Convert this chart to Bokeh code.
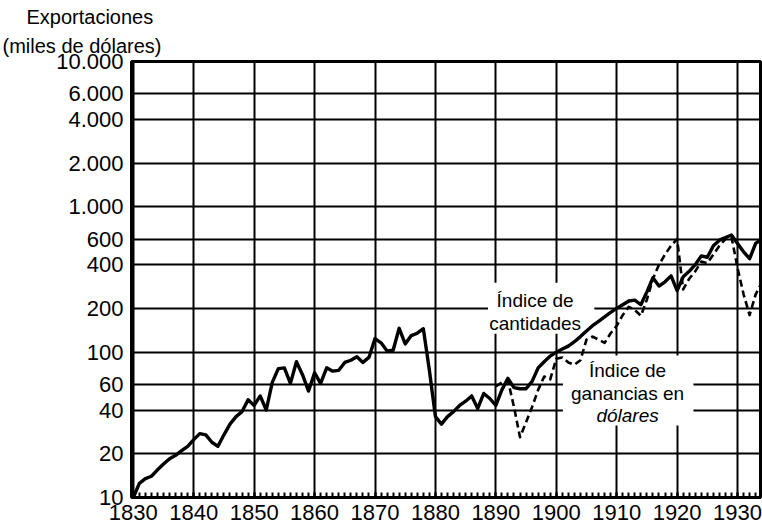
from bokeh.plotting import figure
from bokeh.models import Range1d, FixedTicker, Label, BoxAnnotation, Title
from bokeh.embed import file_html
from bokeh.resources import INLINE

# ---------------- data ----------------
qty_years = list(range(1830, 1935))
qty_values = [
    10, 12.5, 13.5, 14, 15.5, 17, 18.5, 19.5, 21, 22.5,          # 1830-1839
    25, 27.5, 27, 24, 22.5, 27, 32, 36, 39, 47,                  # 1840-1849
    43, 50, 40, 62, 77, 78, 61, 86, 70, 54,                      # 1850-1859
    72, 61, 78, 74, 75, 85, 88, 93, 85, 92,                      # 1860-1869
    124, 116, 102, 103, 146, 114, 130, 135, 145, 75,             # 1870-1879
    36, 32, 36, 39, 43, 46, 50, 41, 52, 48,                      # 1880-1889
    43, 55, 66, 57, 56, 56, 63, 78, 86, 94,                      # 1890-1899
    100, 105, 110, 118, 128, 140, 152, 163, 175, 188,            # 1900-1909
    200, 212, 225, 228, 212, 260, 325, 285, 305, 335,            # 1910-1919
    265, 330, 360, 400, 460, 450, 540, 590, 615, 640,            # 1920-1929
    560, 490, 440, 560, 600,                                     # 1930-1934
]

usd_years = list(range(1890, 1935))
usd_values = [
    58, 62, 64, 42, 26, 33, 42, 55, 68, 65,                      # 1890-1899
    90, 92, 85, 82, 88, 122, 128, 122, 116, 135,                 # 1900-1909
    152, 180, 205, 195, 178, 230, 320, 400, 470, 540,            # 1910-1919
    600, 270, 320, 360, 420, 410, 470, 540, 600, 620,            # 1920-1929
    380, 250, 180, 250, 300,                                     # 1930-1934
]

x_ticks = [1830, 1840, 1850, 1860, 1870, 1880, 1890, 1900, 1910, 1920, 1930]
x_minor = list(range(1830, 1935))
y_ticks = [10, 20, 40, 60, 100, 200, 400, 600, 1000, 2000, 4000, 6000, 10000]
y_labels = ["10", "20", "40", "60", "100", "200", "400", "600",
            "1.000", "2.000", "4.000", "6.000", "10.000"]

title_1 = "Exportaciones"
title_2 = "(miles de dólares)"
label_qty = ["Índice de", "cantidades"]
label_usd = ["Índice de", "ganancias en", "dólares"]

# ---------------- layout ----------------
FONT = "Liberation Sans"
TICK_FS = "22px"
TEXT_FS = "19px"
TITLE_FS = "20px"
W, H = 762, 529
X0, X1 = 1829.7, 1933.8
FL, FR, FT, FB = 131, 760, 61, 497   # frame edges in page pixels

p = figure(width=W, height=H, title=None,
           x_range=Range1d(X0, X1), y_range=Range1d(10, 10000),
           y_axis_type="log", output_backend="svg", toolbar_location=None,
           min_border_left=FL, min_border_right=W - FR,
           min_border_top=FT, min_border_bottom=H - FB)

p.outline_line_color = "black"
p.outline_line_width = 3
p.background_fill_color = "white"
p.border_fill_color = "white"

xt = FixedTicker(ticks=x_ticks, minor_ticks=x_minor)
yt = FixedTicker(ticks=y_ticks, minor_ticks=[])

xa = p.xaxis[0]
xa.ticker = xt
xa.axis_line_width = 2.5
xa.major_tick_in = 5
xa.major_tick_out = 0
xa.minor_tick_in = 5
xa.minor_tick_out = 0
xa.major_tick_line_width = 2
xa.minor_tick_line_width = 2
xa.major_label_standoff = 7
xa.major_label_text_font = FONT
xa.major_label_text_font_size = TICK_FS
xa.major_label_text_color = "black"

ya = p.yaxis[0]
ya.ticker = yt
ya.axis_line_color = None
ya.major_tick_in = 0
ya.major_tick_out = 0
ya.minor_tick_in = 0
ya.minor_tick_out = 0
ya.major_label_standoff = 8
ya.major_label_text_font = FONT
ya.major_label_text_font_size = TICK_FS
ya.major_label_text_color = "black"
ya.major_label_overrides = {v: s for v, s in zip(y_ticks, y_labels)}

p.xgrid.ticker = xt
p.ygrid.ticker = yt
for g in (p.xgrid[0], p.ygrid[0]):
    g.grid_line_color = "black"
    g.grid_line_width = 2
    g.grid_line_alpha = 1

# white patches behind the in-plot labels (interrupt grid lines)
p.add_layout(BoxAnnotation(left=1888.7, right=1906.3, bottom=134, top=300,
                           fill_color="white", fill_alpha=1, line_color=None,
                           level="underlay"))
p.add_layout(BoxAnnotation(left=1901.1, right=1922.7, bottom=31.3, top=95,
                           fill_color="white", fill_alpha=1, line_color=None,
                           level="underlay"))

# series
p.line(qty_years, qty_values, line_color="black", line_width=3.4,
       line_join="round", line_cap="round")
p.line(usd_years, usd_values, line_color="black", line_width=2.6,
       line_dash="7 4", line_join="round")

# axis title, as two stacked titles above the frame (first = nearest frame)
p.add_layout(Title(text=title_2, align="left", offset=2 - FL, standoff=10,
                   text_font=FONT, text_font_size=TITLE_FS,
                   text_font_style="normal", text_color="black"), "above")
p.add_layout(Title(text=title_1, align="left", offset=26 - FL, standoff=0,
                   text_font=FONT, text_font_size=TITLE_FS,
                   text_font_style="normal", text_color="black"), "above")

# in-plot labels
for txt, yv in zip(label_qty, [227, 157]):
    p.add_layout(Label(x=1896.5, y=yv, text=txt, text_font=FONT,
                       text_font_size=TEXT_FS, text_color="black",
                       text_align="center", text_baseline="middle"))
for txt, yv, st in zip(label_usd, [75, 52, 36.6], ["normal", "normal", "italic"]):
    p.add_layout(Label(x=1911.8, y=yv, text=txt, text_font=FONT,
                       text_font_size=TEXT_FS, text_color="black",
                       text_font_style=st,
                       text_align="center", text_baseline="middle"))

open("out.html", "w").write(file_html(p, INLINE))
